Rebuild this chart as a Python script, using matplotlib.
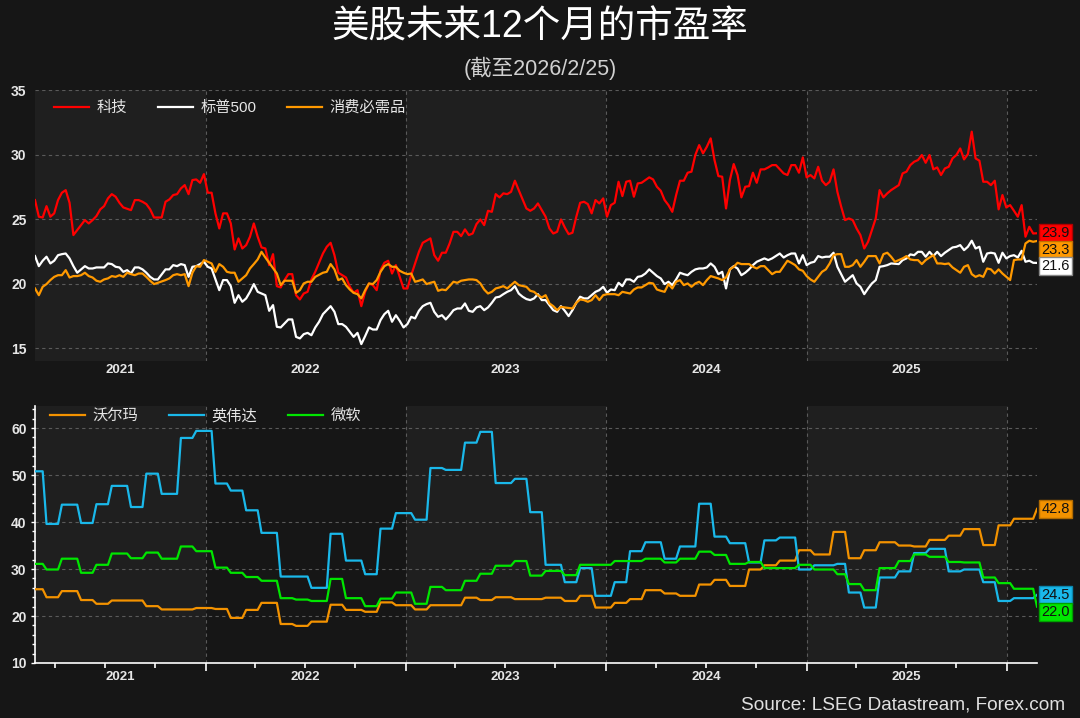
# forward P/E chart: US sectors (top) and three single names (bottom)

import matplotlib as mpl
mpl.use('Agg')
import matplotlib.pyplot as plt
import matplotlib.dates as mdates
import matplotlib.transforms as mtrans
from matplotlib.ticker import MultipleLocator, NullFormatter
import numpy as np

plt.rcParams['font.family'] = ['Liberation Sans', 'Noto Sans CJK SC']

BG = '#161616'
BAND = '#1f1f1f'
GRID = '#5a5a5a'
TXT = '#e6e6e6'

# weekly observations, week 0 = 2021-02-24, week 261 = 2026-02-25
start = np.datetime64('2021-02-24')

tech_wk = [0, 1, 2, 3, 4, 5, 6, 7, 8, 9, 10, 13, 14, 15, 16, 17, 18, 19, 20, 21, 22, 23, 25, 26, 27, 28, 29, 30, 31, 33,
           34, 35, 36, 37, 38, 39, 40, 41, 42, 43, 44, 45, 46, 47, 48, 49, 50, 51, 52, 53, 54, 55, 56, 57, 58, 59, 60, 61, 62, 63,
           64, 65, 66, 67, 68, 69, 70, 71, 72, 73, 75, 76, 77, 78, 79, 80, 81, 82, 83, 84, 85, 86, 87, 88, 89, 90, 91, 92, 93, 94,
           95, 96, 97, 98, 99, 100, 101, 103, 104, 105, 106, 107, 108, 109, 110, 111, 112, 113, 114, 115, 116, 117, 118, 119, 120,
           121, 122, 123, 124, 125, 126, 128, 129, 130, 131, 132, 133, 134, 135, 136, 137, 138, 139, 140, 141, 142, 143, 144, 145,
           146, 147, 148, 149, 150, 151, 152, 153, 154, 155, 156, 157, 158, 159, 160, 161, 162, 163, 164, 165, 166, 167, 168, 169,
           170, 171, 172, 173, 174, 175, 176, 177, 178, 179, 180, 181, 182, 183, 184, 185, 186, 187, 188, 189, 190, 191, 192, 193,
           195, 196, 197, 198, 199, 200, 201, 202, 203, 204, 205, 206, 207, 208, 209, 210, 211, 212, 213, 214, 215, 216, 217, 218,
           219, 220, 221, 222, 223, 225, 226, 227, 228, 229, 230, 231, 232, 233, 234, 235, 236, 237, 238, 239, 240, 241, 242, 243,
           244, 245, 246, 247, 248, 249, 250, 251, 252, 253, 254, 255, 256, 257, 258, 259, 260, 261]
tech_pe = [26.47, 25.18, 25.12, 26.0, 25.18, 25.44, 26.47, 27.04, 27.24, 26.26, 23.76, 24.92, 24.66, 24.92, 25.23, 25.75, 26.0,
           26.6, 26.93, 26.73, 26.26, 25.9, 25.69, 26.47, 26.47, 26.34, 26.16, 25.75, 25.12, 25.12,
           26.34, 26.52, 26.86, 26.93, 27.37, 27.63, 26.93, 28.02, 28.07, 27.81, 28.48, 27.04, 27.04, 25.44, 24.27, 25.44, 25.44,
           24.66, 22.64, 23.5, 22.72, 22.98, 23.63, 24.66, 23.63, 22.8, 22.72, 21.43, 22.28, 19.8,
           19.7, 20.27, 20.73, 20.73, 19.1, 18.77, 19.23, 19.36, 20.32, 20.91, 22.33, 22.85, 23.16, 22.2, 20.84, 20.65, 20.47,
           19.75, 19.29, 19.49, 18.25, 19.36, 20.0, 19.88, 19.49, 21.04, 21.61, 21.77, 20.78, 21.43,
           20.52, 19.62, 19.62, 20.65, 21.56, 22.46, 23.16, 23.5, 22.2, 21.77, 22.39, 22.39, 23.11, 24.01, 24.01, 23.68, 24.2,
           23.76, 23.88, 24.61, 24.97, 24.53, 25.64, 25.56, 26.93,
           26.68, 26.99, 26.93, 27.11, 27.97, 27.24, 25.82, 25.64, 25.82, 26.21, 25.69, 25.18, 24.27, 23.88, 24.01, 24.97, 24.35,
           23.83, 23.94, 25.18, 26.26, 26.34, 26.16, 25.44,
           26.47, 26.21, 26.6, 25.18, 26.08, 26.26, 27.89, 26.78, 27.89, 27.97, 26.73, 27.76, 27.81, 28.02, 28.23, 28.07, 27.5,
           27.19, 26.47, 26.08, 25.56, 26.86, 27.97, 27.97,
           28.59, 28.67, 29.96, 30.73, 30.09, 30.6, 31.25, 29.57, 28.33, 28.28, 25.82, 28.02, 29.26, 28.41, 26.68, 27.5, 27.55,
           28.59, 27.81, 28.85, 28.85, 29.0, 29.18, 29.18,
           28.54, 28.41, 29.18, 29.18, 28.59, 29.78, 28.23, 28.41, 28.15, 29.05, 27.97, 27.63, 27.89, 28.85, 27.11, 25.95, 24.92,
           25.05, 24.92, 24.27, 23.76, 22.72, 23.24, 24.14,
           25.05, 27.24, 26.68, 26.99, 27.24, 27.63, 28.54, 28.67, 29.18, 29.44, 29.57, 29.96, 29.36, 29.96, 28.85, 29.0, 28.41,
           28.92, 29.05, 29.7, 29.96, 30.47, 29.62, 30.03,
           31.77, 29.7, 29.52, 27.89, 27.89, 27.63, 27.97, 25.75, 26.86, 25.9, 26.08, 25.64, 25.18, 26.08, 23.63, 24.4, 23.88, 23.9]

spx_wk = [0, 1, 2, 3, 4, 5, 6, 7, 8, 9, 10, 11, 12, 13, 14, 15, 16, 18, 19, 20, 21, 22, 23, 24, 25, 26, 27, 28, 29, 30,
          31, 32, 34, 35, 36, 37, 38, 39, 40, 41, 42, 43, 44, 45, 46, 47, 48, 49, 50, 51, 52, 53, 54, 55, 56, 57, 58, 59, 60, 61,
          62, 63, 64, 65, 66, 67, 68, 69, 70, 71, 72, 73, 74, 75, 76, 77, 78, 79, 80, 81, 82, 83, 84, 85, 86, 87, 88, 89, 90, 91,
          92, 93, 94, 95, 96, 97, 98, 99, 100, 101, 102, 103, 104, 105, 106, 107, 108, 109, 110, 111, 112, 113, 114, 115, 116, 117,
          118, 119, 120, 121, 122, 123, 124, 125, 126, 127, 128, 129, 130, 131, 132, 133, 134, 135, 136, 137, 138, 139, 140, 141,
          142, 143, 144, 146, 147, 148, 149, 150, 151, 152, 153, 154, 155, 156, 157, 158, 159, 160, 161, 162, 163, 164, 165, 166,
          167, 168, 169, 170, 171, 172, 173, 174, 175, 176, 177, 178, 179, 180, 181, 182, 183, 184, 185, 186, 187, 188, 189, 190,
          191, 192, 194, 195, 196, 197, 198, 199, 200, 201, 202, 203, 204, 205, 206, 207, 208, 209, 211, 212, 213, 214, 215, 216,
          217, 218, 219, 220, 221, 222, 223, 225, 226, 227, 228, 229, 230, 231, 232, 233, 234, 235, 236, 237, 238, 239, 240, 241,
          242, 243, 244, 245, 246, 247, 248, 249, 250, 251, 252, 253, 254, 255, 256, 257, 258, 259, 260, 261]
spx_pe = [22.13, 21.35, 21.77, 22.08, 21.56, 21.77, 22.2, 22.28, 22.33, 21.95, 21.35, 20.84, 21.1, 21.35, 21.17, 21.17, 21.25,
          21.25, 21.56, 21.51, 21.3, 21.25, 20.91, 21.04, 20.78, 21.25, 21.25, 21.1, 20.84, 20.52,
          20.32, 20.32, 21.1, 21.1, 21.43, 21.35, 21.51, 21.43, 20.52, 21.3, 21.35, 21.51, 21.69, 21.3, 21.17, 20.32, 19.49,
          20.27, 20.27, 19.8, 18.51, 19.1, 18.59, 18.85, 19.36, 19.96, 19.36, 19.23, 19.1, 17.89,
          18.33, 16.65, 16.6, 16.91, 17.22, 17.22, 15.87, 15.75, 16.08, 16.18, 16.0, 16.6, 17.04, 17.63, 17.94, 18.25, 17.81,
          16.86, 16.86, 16.65, 16.26, 15.87, 16.18, 15.31, 15.93, 16.6, 16.44, 16.44, 17.17, 17.63,
          17.89, 17.04, 17.55, 17.11, 16.6, 16.86, 17.42, 17.3, 17.89, 18.25, 18.41, 18.51, 17.81, 17.42, 17.55, 17.22, 17.55,
          17.94, 18.07, 18.07, 18.46, 17.89, 17.81, 18.15, 18.25, 17.94,
          18.15, 18.51, 18.92, 18.98, 19.18, 19.36, 19.49, 19.8, 19.23, 18.98, 18.8, 18.72, 18.85, 19.18, 18.72, 18.72, 18.33,
          17.94, 17.81, 18.25, 17.89, 17.48, 17.94, 18.51,
          18.98, 18.85, 18.85, 19.36, 19.49, 19.75, 19.29, 19.54, 19.49, 20.06, 19.8, 20.32, 20.32, 20.14, 20.52, 20.58, 20.78,
          21.1, 20.84, 20.58, 20.4, 19.96, 20.14, 19.88,
          20.32, 20.84, 20.73, 20.65, 20.91, 21.1, 21.17, 21.17, 21.25, 21.56, 21.3, 20.73, 20.91, 19.62, 21.1, 21.35, 21.17,
          20.65, 20.84, 21.1, 21.43, 21.69, 21.82, 21.95,
          21.82, 21.95, 22.33, 22.02, 22.2, 22.33, 22.33, 21.56, 22.2, 21.43, 21.61, 21.69, 22.13, 22.02, 22.08, 22.08, 22.39,
          21.3, 20.14, 20.4, 20.65, 20.01, 19.75, 19.18,
          19.62, 20.01, 20.27, 21.3, 21.35, 21.43, 21.56, 21.51, 21.82, 21.95, 22.26, 22.2, 22.46, 22.46, 22.08, 22.46, 22.13,
          22.46, 22.13, 22.39, 22.59, 22.8, 22.85, 22.98,
          22.59, 22.85, 23.32, 22.72, 22.85, 21.69, 22.33, 22.39, 22.33, 21.61, 22.39, 21.95, 22.13, 22.2, 22.02, 22.54, 21.69,
          21.77, 21.61, 21.6]

stap_wk = [0, 1, 2, 3, 4, 5, 6, 7, 8, 9, 10, 11, 12, 13, 14, 15, 16, 17, 18, 19, 20, 21, 22, 23, 24, 25, 26, 27, 28, 29,
           30, 31, 32, 34, 35, 36, 37, 38, 39, 40, 41, 42, 43, 44, 45, 46, 47, 48, 49, 50, 51, 52, 53, 54, 55, 56, 57, 58, 59, 60,
           61, 63, 64, 65, 66, 67, 68, 69, 70, 71, 72, 73, 75, 76, 77, 78, 79, 80, 81, 82, 83, 84, 85, 86, 87, 88, 89, 90, 91, 92,
           93, 94, 95, 96, 97, 98, 99, 100, 101, 102, 103, 104, 105, 106, 107, 108, 109, 110, 111, 113, 114, 115, 116, 117, 118,
           119, 120, 121, 122, 123, 124, 125, 126, 128, 129, 130, 131, 132, 133, 134, 135, 136, 137, 138, 140, 141, 142, 143, 144,
           145, 146, 147, 148, 149, 150, 151, 152, 153, 155, 156, 157, 158, 159, 160, 161, 162, 163, 164, 165, 166, 167, 168, 169,
           170, 171, 172, 173, 174, 175, 176, 178, 179, 180, 181, 182, 183, 184, 185, 186, 187, 188, 189, 190, 191, 192, 193, 194,
           196, 197, 198, 199, 200, 201, 202, 203, 204, 205, 206, 207, 208, 209, 210, 211, 212, 213, 214, 215, 216, 217, 218, 219,
           220, 221, 222, 223, 224, 226, 227, 228, 229, 230, 231, 232, 233, 234, 235, 236, 237, 238, 239, 240, 241, 242, 243, 244,
           245, 246, 247, 248, 249, 250, 251, 252, 253, 254, 255, 256, 257, 258, 259, 260, 261]
stap_pe = [19.62, 19.1, 19.75, 19.96, 20.27, 20.52, 20.65, 20.65, 21.04, 20.47, 20.58, 20.58, 20.65, 20.84, 20.58, 20.47, 20.22,
           20.14, 20.32, 20.4, 20.58, 20.52, 20.65, 20.52, 20.84, 20.73, 20.65, 20.78, 20.78, 20.52,
           20.22, 19.96, 20.06, 20.27, 20.4, 20.65, 20.73, 20.65, 20.73, 19.8, 20.84, 21.35, 21.3, 21.82, 21.69, 21.56, 20.91,
           21.51, 21.3, 20.91, 20.84, 20.84, 20.14, 20.4, 20.65, 21.17, 21.51, 21.87, 22.46, 22.02,
           21.61, 20.78, 19.88, 20.22, 20.22, 20.22, 19.28, 19.49, 20.01, 20.14, 20.14, 20.52, 20.84, 20.91, 21.51, 21.1, 20.27,
           20.4, 19.88, 19.54, 19.28, 19.18, 18.85, 19.49, 20.01, 19.96, 20.27, 20.91, 21.35, 21.51,
           21.3, 21.3, 20.99, 20.84, 20.73, 20.78, 20.14, 20.22, 20.32, 19.96, 20.06, 20.14, 19.44, 19.54, 19.49, 19.8, 20.14,
           20.06, 20.22, 20.32, 20.32, 20.27, 20.01, 19.54, 19.23,
           19.36, 19.62, 19.7, 19.8, 19.62, 19.88, 20.14, 19.88, 19.75, 19.44, 19.36, 19.1, 18.92, 19.1, 18.46, 18.25, 17.94,
           18.2, 18.15, 18.07, 18.51, 18.77, 18.72, 18.59,
           18.72, 19.1, 18.72, 19.1, 19.18, 19.18, 19.18, 19.1, 19.36, 19.23, 19.54, 19.7, 19.7, 19.88, 20.06, 20.01, 19.54,
           19.44, 19.36, 19.96, 19.62, 20.14, 20.27, 19.88,
           20.01, 19.75, 20.01, 20.14, 19.88, 20.27, 20.58, 20.4, 20.27, 20.47, 21.1, 21.3, 21.61, 21.51, 21.51, 21.51, 21.3,
           21.17, 21.35, 21.35, 21.04, 20.73, 20.91, 20.91,
           21.77, 21.61, 21.43, 21.1, 20.99, 20.58, 20.32, 20.14, 20.52, 20.91, 21.1, 21.56, 22.2, 22.28, 22.28, 21.3, 21.3,
           21.43, 21.82, 21.3, 21.69, 22.13, 22.13, 22.13,
           21.56, 22.28, 22.39, 22.08, 21.69, 21.95, 22.13, 21.87, 21.82, 21.82, 21.51, 21.82, 22.02, 22.2, 21.56, 21.56, 21.51,
           21.56, 21.25, 21.04, 20.84, 21.3, 21.43, 20.73,
           20.52, 20.65, 20.52, 21.17, 21.1, 20.78, 21.1, 20.78, 20.52, 20.27, 21.82, 21.87, 21.87, 23.11, 23.32, 23.24, 23.3]

# bottom panel: quarterly-updated estimates, so store the week each new level starts
wmt_wk = [0, 3, 7, 12, 16, 20, 29, 33, 42, 47, 51, 55, 59, 64, 68, 72, 77, 81, 86, 90, 94, 99, 103, 112, 116, 120, 125, 133,
          138, 142, 146, 151, 155, 159, 164, 168, 173, 177, 181, 186, 190, 194, 199, 203, 208, 212, 216, 220, 225, 229, 233,
          238, 242, 247, 251, 255, 261]
wmt_pe = [25.7, 24.0, 25.3, 23.4, 22.6, 23.3, 22.1, 21.4, 21.7, 21.5, 19.6, 21.3, 22.8, 18.3, 17.9, 18.8, 22.4, 21.3, 20.9,
          22.9, 22.3, 21.4, 22.3, 23.9, 23.4, 24.0, 23.6, 23.9, 23.2, 24.3, 21.8, 22.8, 23.6, 25.5, 24.8, 24.3, 26.7, 27.7,
          26.4, 29.9, 30.8, 31.8, 34.0, 33.1, 37.9, 32.3, 34.0, 35.7, 35.0, 34.8, 36.2, 37.1, 38.5, 35.1, 39.3, 40.7, 42.8]

nvda_wk = [0, 3, 7, 12, 16, 20, 25, 29, 33, 38, 42, 47, 51, 55, 59, 64, 72, 77, 81, 86, 90, 94, 99, 103, 107, 112, 116,
           120, 125, 129, 133, 138, 142, 146, 151, 155, 159, 164, 168, 173, 177, 181, 186, 190, 194, 199, 203, 209, 212, 216,
           220, 225, 229, 233, 238, 242, 247, 251, 255, 261]
nvda_pe = [50.8, 39.6, 43.7, 39.8, 43.8, 47.7, 43.2, 50.3, 46.0, 57.9, 59.4, 48.2, 46.7, 42.5, 37.7, 28.4, 26.0, 37.5, 31.8,
           28.9, 38.6, 41.9, 40.5, 51.5, 51.1, 56.9, 59.2, 48.3, 49.2, 42.1, 30.9, 27.2, 30.2, 24.3, 27.2, 33.8, 35.7, 32.2,
           34.8, 43.9, 36.9, 35.5, 31.4, 36.1, 36.7, 29.9, 30.8, 31.1, 25.0, 21.8, 28.2, 29.5, 33.4, 34.3, 29.5, 29.9, 27.2,
           23.2, 23.8, 24.5]

msft_wk = [0, 3, 7, 12, 16, 20, 25, 29, 33, 38, 42, 47, 51, 55, 59, 64, 68, 72, 77, 81, 86, 90, 94, 99, 103, 107, 112, 116,
           120, 125, 129, 133, 138, 142, 151, 159, 164, 168, 173, 177, 181, 186, 190, 199, 203, 209, 212, 216, 220, 225, 229,
           233, 238, 242, 247, 251, 255, 261]
msft_pe = [31.1, 29.9, 32.2, 29.2, 30.9, 33.3, 32.3, 33.5, 32.2, 34.8, 33.8, 30.3, 29.2, 28.3, 27.5, 23.8, 23.5, 23.2, 27.9,
           23.8, 22.1, 23.7, 25.0, 22.6, 26.2, 25.5, 27.5, 29.0, 30.7, 31.7, 28.6, 29.6, 28.7, 30.9, 31.7, 32.2, 31.4, 32.2,
           33.7, 33.0, 31.1, 31.5, 30.2, 30.9, 29.9, 28.9, 26.8, 25.5, 30.2, 31.7, 33.1, 32.6, 31.5, 31.4, 28.2, 27.0, 25.8,
           22.0]

years = [2021, 2022, 2023, 2024, 2025]
shaded_years = [2021, 2023, 2025]


def week_dates(wk):
    return start + np.array(wk) * np.timedelta64(7, 'D')


def steps(wk, pe):
    # hold each level until the week before the next one starts
    xs, ys = [], []
    for i in range(len(wk)):
        xs.append(wk[i]); ys.append(pe[i])
        if i + 1 < len(wk) and wk[i + 1] - 1 > wk[i]:
            xs.append(wk[i + 1] - 1); ys.append(pe[i])
    return week_dates(xs), ys


def yr(y):
    return np.datetime64('%d-01-01' % y)


def style_panel(ax, label_y):
    ax.set_facecolor(BG)
    x0 = start
    x1 = week_dates([261])[0]
    ax.set_xlim(x0, x1)
    for y in shaded_years:
        ax.axvspan(yr(y), yr(y + 1), color=BAND, lw=0, zorder=0)
    for y in years:
        if yr(y + 1) < x1:
            ax.axvline(yr(y + 1), color=GRID, lw=0.8, ls=(0, (3, 3)), zorder=1)
    ax.yaxis.grid(True, color=GRID, lw=0.8, ls=(0, (3, 3)), zorder=1)
    ax.set_axisbelow(True)
    trans = mtrans.blended_transform_factory(ax.transData, ax.transAxes)
    for y in years:
        lo = max(yr(y), x0)
        hi = min(yr(y + 1), x1)
        mid = lo + (hi - lo) / 2
        ax.text(mid, label_y, str(y), transform=trans, ha='center', va='center',
                fontsize=9.5, fontweight='bold', color=TXT)
    for s in ax.spines.values():
        s.set_visible(False)
    ax.tick_params(axis='y', colors=TXT, labelsize=10)
    for t in ax.get_yticklabels():
        t.set_fontweight('bold')


def end_labels(ax, items, gap_px):
    fig = ax.figure
    h_px = ax.get_position().height * fig.get_figheight() * fig.dpi
    y0, y1 = ax.get_ylim()
    gap = gap_px / h_px * (y1 - y0)
    last = None
    for val, fc, ec in sorted(items, key=lambda t: -t[0]):
        pos = val if last is None else min(val, last - gap)
        last = pos
        ax.annotate('%.1f' % val, xy=(1, pos), xycoords=ax.get_yaxis_transform(),
                    xytext=(3, 0), textcoords='offset points', ha='left', va='center',
                    fontsize=10.5, color='#111111', annotation_clip=False,
                    bbox=dict(boxstyle='square,pad=0.14', fc=fc, ec=ec, lw=1))


RED = '#ff0000'
WHITE = '#ffffff'
ORANGE = '#ff9900'
WMT_C = '#f39200'
NVDA_C = '#1ab8ea'
MSFT_C = '#00e600'

fig = plt.figure(figsize=(10.8, 7.18), dpi=100)
fig.patch.set_facecolor(BG)

fig.text(0.5, 1 - 28 / 718, '美股未来12个月的市盈率', ha='center', va='center',
         fontsize=27, color='white')
fig.text(0.5, 1 - 68 / 718, '(截至2026/2/25)', ha='center', va='center',
         fontsize=15.5, color='#d0d0d0')

# top panel
ax1 = fig.add_axes([35 / 1080, 357 / 718, 1002 / 1080, 271 / 718])
ax1.set_ylim(14, 35)
ax1.set_yticks([15, 20, 25, 30, 35])
style_panel(ax1, -0.033)
ax1.set_xticks([])
ax1.tick_params(axis='y', length=0, pad=6)
ax1.plot(week_dates(tech_wk), tech_pe, color=RED, lw=1.6, label='科技', zorder=3)
ax1.plot(week_dates(spx_wk), spx_pe, color=WHITE, lw=1.6, label='标普500', zorder=3)
ax1.plot(week_dates(stap_wk), stap_pe, color=ORANGE, lw=1.6, label='消费必需品', zorder=3)
ax1.legend(loc='upper left', bbox_to_anchor=(0.008, 1.0), ncol=3, frameon=False,
           fontsize=11, handlelength=2.3, handletextpad=0.5, columnspacing=2.0,
           labelcolor=TXT, borderaxespad=0.3)
end_labels(ax1, [(tech_pe[-1], RED, '#b00000'), (stap_pe[-1], ORANGE, '#c07000'),
                 (spx_pe[-1], WHITE, '#888888')], 16.5)

# bottom panel
ax2 = fig.add_axes([35 / 1080, 55 / 718, 1002 / 1080, 257 / 718])
ax2.set_ylim(10, 64.7)
ax2.yaxis.set_major_locator(MultipleLocator(10))
ax2.yaxis.set_minor_locator(MultipleLocator(2))
style_panel(ax2, -0.056)
ax2.spines['left'].set_visible(True)
ax2.spines['bottom'].set_visible(True)
ax2.spines['left'].set_color('white')
ax2.spines['bottom'].set_color('white')
ax2.spines['left'].set_linewidth(1.2)
ax2.spines['bottom'].set_linewidth(1.2)
ax2.xaxis.set_major_locator(mdates.YearLocator())
ax2.xaxis.set_minor_locator(mdates.MonthLocator(bymonth=[4, 7, 10]))
ax2.xaxis.set_major_formatter(NullFormatter())
ax2.xaxis.set_minor_formatter(NullFormatter())
ax2.tick_params(axis='x', which='major', length=6, width=1.2, color='white')
ax2.tick_params(axis='x', which='minor', length=3.5, width=1.2, color='white')
ax2.tick_params(axis='y', which='major', length=3, width=1, color='white', pad=3)
ax2.tick_params(axis='y', which='minor', length=2, width=1, color='white')
for wk, pe, col, lab in [(wmt_wk, wmt_pe, WMT_C, '沃尔玛'), (nvda_wk, nvda_pe, NVDA_C, '英伟达'),
                         (msft_wk, msft_pe, MSFT_C, '微软')]:
    xs, ys = steps(wk, pe)
    ax2.plot(xs, ys, color=col, lw=1.6, label=lab, zorder=3)
ax2.legend(loc='upper left', bbox_to_anchor=(0.004, 1.03), ncol=3, frameon=False,
           fontsize=11, handlelength=2.3, handletextpad=0.5, columnspacing=2.0,
           labelcolor=TXT, borderaxespad=0.3)
end_labels(ax2, [(wmt_pe[-1], WMT_C, '#b06a00'), (nvda_pe[-1], NVDA_C, '#0a88b0'),
                 (msft_pe[-1], MSFT_C, '#00a000')], 17)

fig.text(1065 / 1080, 1 - 705 / 718, 'Source: LSEG Datastream, Forex.com', ha='right', va='center',
         fontsize=13.7, color='#e0e0e0')

fig.savefig('out.png', dpi=100, facecolor=BG)
